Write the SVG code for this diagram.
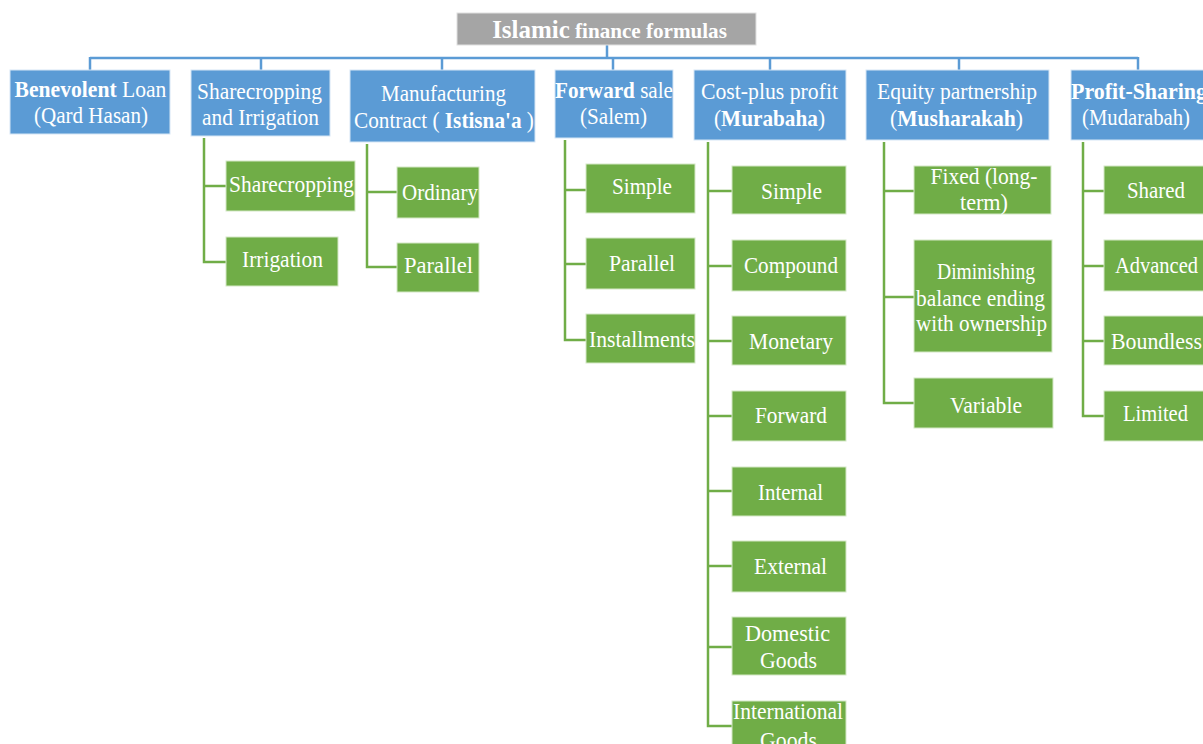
<svg xmlns="http://www.w3.org/2000/svg" width="1203" height="744" viewBox="0 0 1203 744">
<style>
.bg{fill:#ffffff}
.p{fill:#5b9bd5;stroke:#d6e6f5;stroke-width:1}
.c{fill:#70ad47;stroke:#d4e8c6;stroke-width:1}
.t{fill:#a5a5a5;stroke:#e0e0e0;stroke-width:1}
text{font-family:"Liberation Serif","Times New Roman",serif;font-size:24px;fill:#ffffff;text-anchor:middle}
.b{font-weight:bold}
.bl{fill:none;stroke:#5b9bd5;stroke-width:2.5}
.gl{fill:none;stroke:#70ad47;stroke-width:2.5}
</style>
<rect class="bg" width="1203" height="744"/>
<g id="connectors">
  <path class="bl" d="M607 45V58M90 58H1138M90 57V70M261 57V70M442 57V70M613 57V70M770 57V70M959 57V70M1138 57V70"/>
  <path class="gl" d="M204 138V262H226M204 186H226"/>
  <path class="gl" d="M367 144V267H397M367 192H397"/>
  <path class="gl" d="M565 140V340H586M565 190H586M565 264H586"/>
  <path class="gl" d="M708 142V726H732M708 191H732M708 266H732M708 341H732M708 416H732M708 491H732M708 566H732M708 647H732"/>
  <path class="gl" d="M884 142V403H914M884 191H914M884 297H914"/>
  <path class="gl" d="M1083 142V416H1104M1083 191H1104M1083 266H1104M1083 341H1104"/>
</g>
<g id="title">
  <rect class="t" x="457" y="13" width="299" height="32"/>
  <text class="b" transform="translate(609.5 38) scale(0.96 1)"><tspan style="font-size:26px">Islamic</tspan><tspan style="font-size:22px"> finance formulas</tspan></text>
</g>
<g id="qard">
  <rect class="p" x="10" y="70" width="160" height="64"/>
  <text transform="translate(90.5 97) scale(0.9 1)"><tspan class="b">Benevolent</tspan> Loan</text>
  <text x="91" y="123" textLength="114" lengthAdjust="spacingAndGlyphs">(Qard Hasan)</text>
</g>
<g id="sharecrop">
  <rect class="p" x="191" y="70" width="139" height="66"/>
  <text x="259.5" y="99" textLength="125" lengthAdjust="spacingAndGlyphs">Sharecropping</text>
  <text x="260.5" y="125" textLength="117" lengthAdjust="spacingAndGlyphs">and Irrigation</text>
</g>
<g id="istisna">
  <rect class="p" x="350" y="70" width="185" height="72"/>
  <text x="443.5" y="101" textLength="125" lengthAdjust="spacingAndGlyphs">Manufacturing</text>
  <text transform="translate(444 128) scale(0.885 1)">Contract ( <tspan class="b">Istisna'a</tspan> )</text>
</g>
<g id="salem">
  <rect class="p" x="555" y="70" width="118" height="68"/>
  <text transform="translate(614 98) scale(0.881 1)"><tspan class="b">Forward</tspan> sale</text>
  <text x="613.5" y="124" textLength="67" lengthAdjust="spacingAndGlyphs">(Salem)</text>
</g>
<g id="murabaha">
  <rect class="p" x="694" y="70" width="152" height="70"/>
  <text x="769.5" y="99" textLength="137" lengthAdjust="spacingAndGlyphs">Cost-plus profit</text>
  <text transform="translate(769.5 126) scale(0.886 1)">(<tspan class="b">Murabaha</tspan>)</text>
</g>
<g id="musharakah">
  <rect class="p" x="866" y="70" width="183" height="70"/>
  <text x="957" y="99" textLength="160" lengthAdjust="spacingAndGlyphs">Equity partnership</text>
  <text transform="translate(956.5 126) scale(0.899 1)">(<tspan class="b">Musharakah</tspan>)</text>
</g>
<g id="mudarabah">
  <rect class="p" x="1071" y="70" width="134" height="70"/>
  <text class="b" x="1139" y="99" textLength="136" lengthAdjust="spacingAndGlyphs">Profit-Sharing</text>
  <text x="1136" y="125" textLength="108" lengthAdjust="spacingAndGlyphs">(Mudarabah)</text>
</g>
<g id="c-sharecropping"><rect class="c" x="226" y="161" width="129" height="50"/><text x="291.5" y="192" textLength="125" lengthAdjust="spacingAndGlyphs">Sharecropping</text></g>
<g id="c-irrigation"><rect class="c" x="226" y="237" width="112" height="49"/><text x="282.5" y="267" textLength="81" lengthAdjust="spacingAndGlyphs">Irrigation</text></g>
<g id="c-ordinary"><rect class="c" x="397" y="167" width="82" height="51"/><text x="440" y="200" textLength="76" lengthAdjust="spacingAndGlyphs">Ordinary</text></g>
<g id="c-parallel1"><rect class="c" x="397" y="243" width="82" height="49"/><text x="438.5" y="273" textLength="69" lengthAdjust="spacingAndGlyphs">Parallel</text></g>
<g id="c-simple1"><rect class="c" x="586" y="164" width="109" height="49"/><text x="642" y="194" textLength="60" lengthAdjust="spacingAndGlyphs">Simple</text></g>
<g id="c-parallel2"><rect class="c" x="586" y="238" width="109" height="51"/><text x="642" y="271" textLength="66" lengthAdjust="spacingAndGlyphs">Parallel</text></g>
<g id="c-installments"><rect class="c" x="586" y="314" width="109" height="49"/><text x="642" y="347" textLength="106" lengthAdjust="spacingAndGlyphs">Installments</text></g>
<g id="c-simple2"><rect class="c" x="732" y="166" width="114" height="48"/><text x="791.5" y="199" textLength="61" lengthAdjust="spacingAndGlyphs">Simple</text></g>
<g id="c-compound"><rect class="c" x="732" y="240" width="114" height="51"/><text x="791" y="273" textLength="94" lengthAdjust="spacingAndGlyphs">Compound</text></g>
<g id="c-monetary"><rect class="c" x="732" y="316" width="114" height="49"/><text x="791" y="349" textLength="84" lengthAdjust="spacingAndGlyphs">Monetary</text></g>
<g id="c-forward"><rect class="c" x="732" y="391" width="114" height="50"/><text x="791" y="423" textLength="72" lengthAdjust="spacingAndGlyphs">Forward</text></g>
<g id="c-internal"><rect class="c" x="732" y="467" width="114" height="49"/><text x="790.5" y="500" textLength="65" lengthAdjust="spacingAndGlyphs">Internal</text></g>
<g id="c-external"><rect class="c" x="732" y="541" width="114" height="51"/><text x="790.5" y="574" textLength="73" lengthAdjust="spacingAndGlyphs">External</text></g>
<g id="c-domestic"><rect class="c" x="732" y="617" width="114" height="58"/><text x="787.5" y="641" textLength="85" lengthAdjust="spacingAndGlyphs">Domestic</text><text x="788.5" y="668" textLength="57" lengthAdjust="spacingAndGlyphs">Goods</text></g>
<g id="c-international"><rect class="c" x="732" y="701" width="114" height="50"/><text x="788" y="719" textLength="110" lengthAdjust="spacingAndGlyphs">International</text><text x="788.5" y="748" textLength="57" lengthAdjust="spacingAndGlyphs">Goods</text></g>
<g id="c-fixed"><rect class="c" x="914" y="166" width="137" height="48"/><text x="984" y="184" textLength="107" lengthAdjust="spacingAndGlyphs">Fixed (long-</text><text x="984" y="210" textLength="48" lengthAdjust="spacingAndGlyphs">term)</text></g>
<g id="c-diminishing"><rect class="c" x="914" y="240" width="138" height="112"/><text x="986" y="279" textLength="98" lengthAdjust="spacingAndGlyphs">Diminishing</text><text x="980.5" y="306" textLength="129" lengthAdjust="spacingAndGlyphs">balance ending</text><text x="981.5" y="331" textLength="131" lengthAdjust="spacingAndGlyphs">with ownership</text></g>
<g id="c-variable"><rect class="c" x="914" y="378" width="139" height="50"/><text x="986" y="413" textLength="72" lengthAdjust="spacingAndGlyphs">Variable</text></g>
<g id="c-shared"><rect class="c" x="1104" y="166" width="100" height="48"/><text x="1156" y="198" textLength="58" lengthAdjust="spacingAndGlyphs">Shared</text></g>
<g id="c-advanced"><rect class="c" x="1104" y="240" width="100" height="51"/><text x="1156.5" y="273" textLength="83" lengthAdjust="spacingAndGlyphs">Advanced</text></g>
<g id="c-boundless"><rect class="c" x="1104" y="316" width="100" height="49"/><text x="1156.5" y="349" textLength="91" lengthAdjust="spacingAndGlyphs">Boundless</text></g>
<g id="c-limited"><rect class="c" x="1104" y="391" width="100" height="50"/><text x="1155.5" y="421" textLength="65" lengthAdjust="spacingAndGlyphs">Limited</text></g>
</svg>
